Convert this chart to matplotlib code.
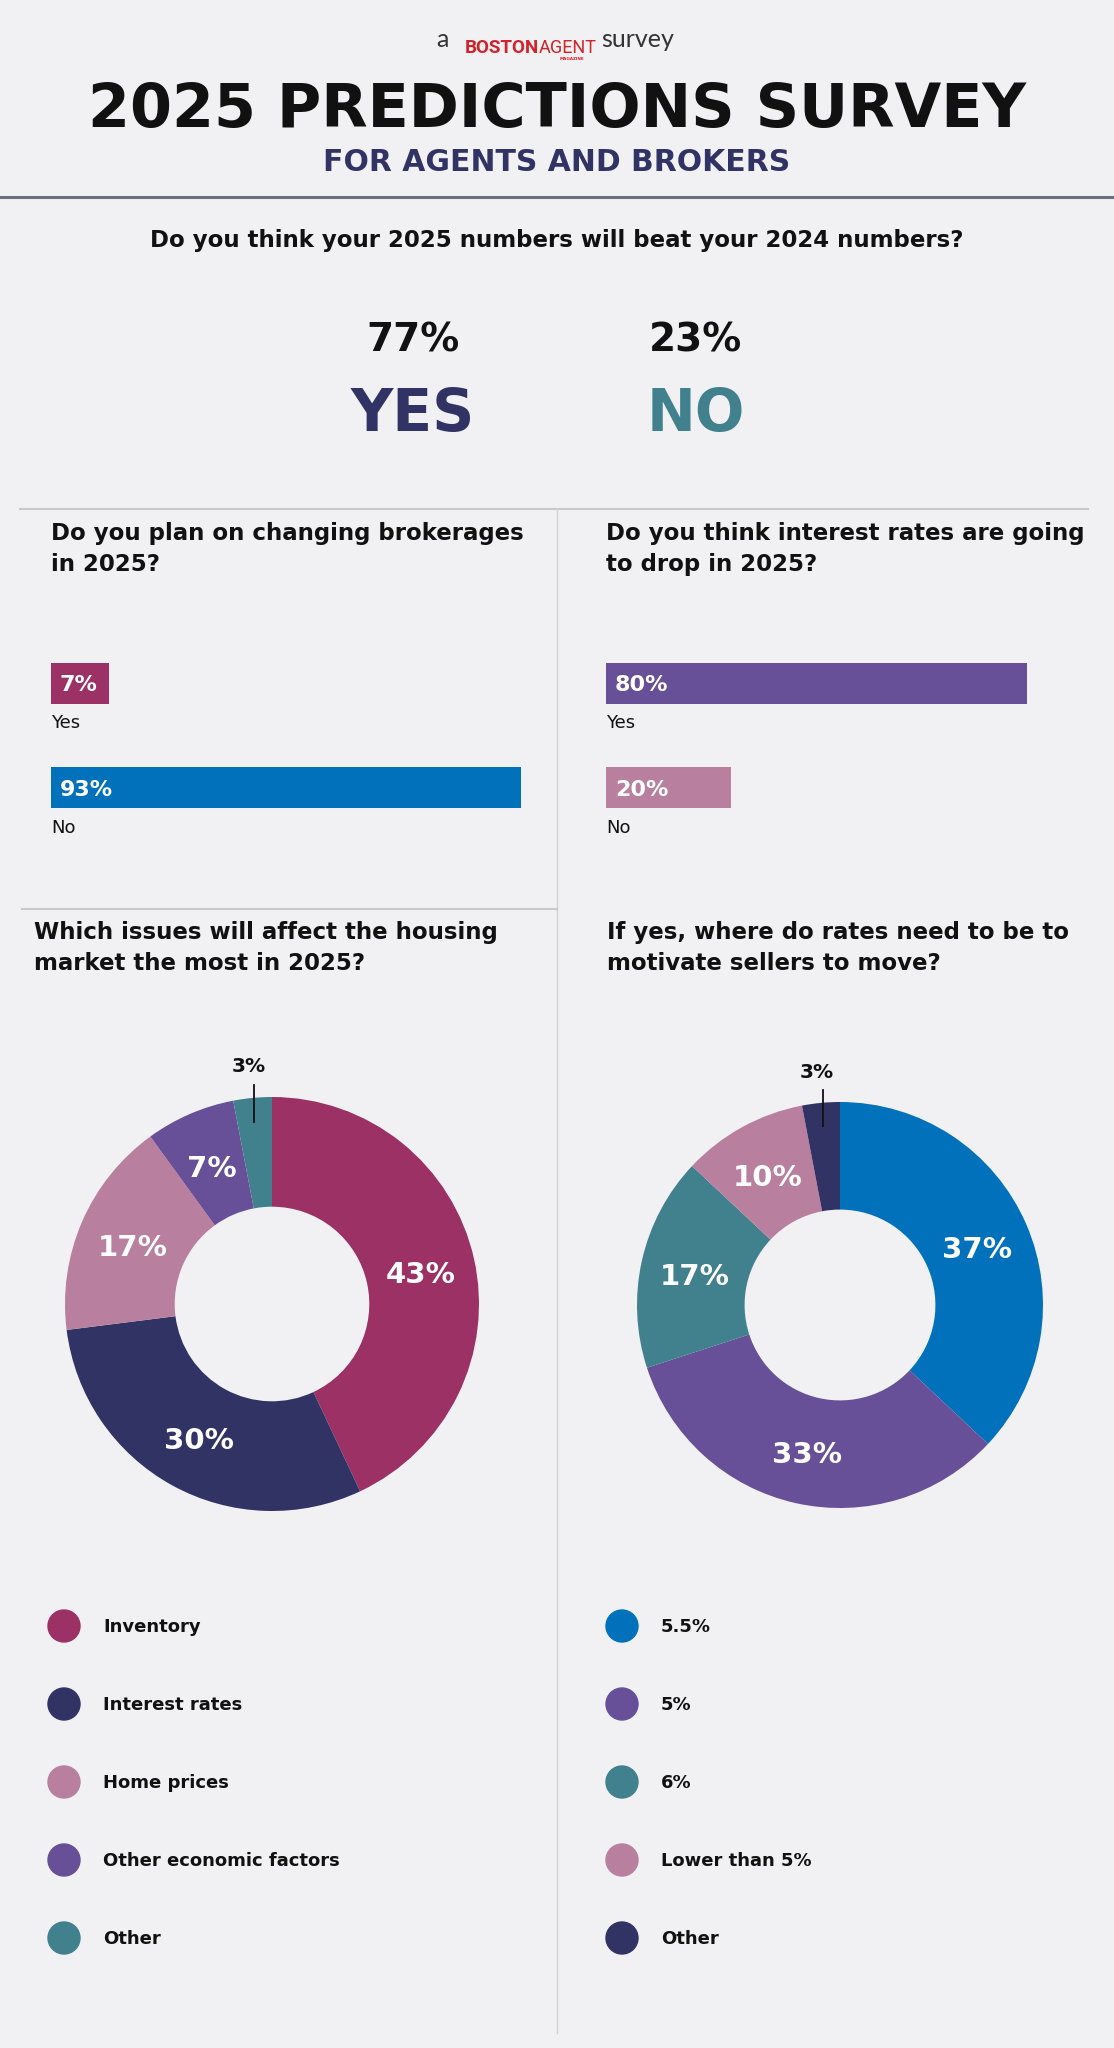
import numpy as np
import matplotlib
matplotlib.use('Agg')
import matplotlib.pyplot as plt
from matplotlib.patches import Circle

plt.rcParams['font.family'] = ['DejaVu Sans']

W, H = 1114, 2048
BG = '#F1F1F3'
INK = '#111111'
MAROON = '#9B3165'
NAVY = '#323365'
PINK = '#B87F9E'
PURPLE = '#675097'
TEAL = '#40818D'
BLUE = '#0071BA'

# --- data ---
beat_labels = ['YES', 'NO']
beat_values = [77, 23]
beat_colors = [NAVY, TEAL]

broker_labels = ['Yes', 'No']
broker_values = [7, 93]
broker_colors = [MAROON, BLUE]

rates_labels = ['Yes', 'No']
rates_values = [80, 20]
rates_colors = [PURPLE, PINK]

issues_labels = ['Inventory', 'Interest rates', 'Home prices', 'Other economic factors', 'Other']
issues_values = [43, 30, 17, 7, 3]
issues_colors = [MAROON, NAVY, PINK, PURPLE, TEAL]

target_labels = ['5.5%', '5%', '6%', 'Lower than 5%', 'Other']
target_values = [37, 33, 17, 10, 3]
target_colors = [BLUE, PURPLE, TEAL, PINK, NAVY]

fig = plt.figure(figsize=(W / 100, H / 100), dpi=100, facecolor=BG)


def px_axes(x0, y0, w, h):
    # axes placed in pixel units, measured from the top-left corner
    return fig.add_axes([x0 / W, 1 - (y0 + h) / H, w / W, h / H])


bg = px_axes(0, 0, W, H)
bg.set_xlim(0, W)
bg.set_ylim(H, 0)
bg.axis('off')

# header
bg.text(449, 47, 'a', fontsize=18, color='#333333', family=['Lato', 'DejaVu Sans'],
        ha='right', va='baseline')
bg.text(539, 53, 'BOSTON', fontsize=13.5, color='#D2232A', weight='bold', ha='right', va='baseline',
        family=['Roboto', 'DejaVu Sans'])
bg.text(539, 53, 'AGENT', fontsize=13, color='#D2232A', ha='left', va='baseline',
        family=['Roboto', 'DejaVu Sans'])
bg.text(572, 59, 'MAGAZINE', fontsize=3, color='#D2232A', ha='center', va='center', weight='bold')
bg.text(601, 47, 'survey', fontsize=18, color='#333333', family=['Lato', 'DejaVu Sans'],
        va='baseline')

bg.text(557, 127, '2025 PREDICTIONS SURVEY', fontsize=43.5, weight='bold', color=INK,
        ha='center', va='baseline')
bg.text(557, 171, 'FOR AGENTS AND BROKERS', fontsize=21.5, weight='bold', color=NAVY,
        ha='center', va='baseline')
bg.plot([0, W], [197, 197], color='#6F6E7B', lw=2.2)

# question 1
bg.text(557, 247, 'Do you think your 2025 numbers will beat your 2024 numbers?', fontsize=16.5,
        weight='bold', color=INK, ha='center', va='baseline')
for cx, lab, val, col in zip([413, 696], beat_labels, beat_values, beat_colors):
    bg.text(cx, 351, f'{val}%', fontsize=28, weight='bold', color=INK, ha='center', va='baseline')
    bg.text(cx, 431, lab, fontsize=42, weight='bold', color=col, ha='center', va='baseline')

# dividers
bg.plot([20, 1088], [509, 509], color='#C9C9CD', lw=1.5)
bg.plot([557, 557], [509, 2033], color='#D2D2D6', lw=1)
bg.plot([22, 557], [909, 909], color='#C9C9CD', lw=1.5)

# section questions
bg.text(51, 571, 'Do you plan on changing brokerages\nin 2025?', fontsize=16.5, weight='bold',
        color=INK, va='baseline', linespacing=1.45)
bg.text(606, 571, 'Do you think interest rates are going\nto drop in 2025?', fontsize=16.5,
        weight='bold', color=INK, va='baseline', linespacing=1.45)
bg.text(34, 970, 'Which issues will affect the housing\nmarket the most in 2025?', fontsize=16.5,
        weight='bold', color=INK, va='baseline', linespacing=1.45)
bg.text(607, 970, 'If yes, where do rates need to be to\nmotivate sellers to move?', fontsize=16.5,
        weight='bold', color=INK, va='baseline', linespacing=1.45)


def bar_panel(x0, x1, labels, values, colors, xmin):
    # bars start a little before zero so the shortest one still holds its label
    ax = px_axes(x0, 631, x1 - x0, 209)
    ypos = np.arange(len(values))
    ax.barh(ypos, np.array(values) - xmin, left=xmin, height=0.39, color=colors)
    ax.set_xlim(xmin, max(values))
    ax.set_ylim(1.5, -0.5)
    ax.axis('off')
    for y, lab, val in zip(ypos, labels, values):
        ax.text(xmin + 1.8, y + 0.077, f'{val}%', color='white', fontsize=16, weight='bold',
                va='baseline')
        ax.text(xmin, y + 0.43, lab, color=INK, fontsize=13, va='baseline')
    return ax


bar_panel(51, 521, broker_labels, broker_values, broker_colors, -5.1)
bar_panel(606, 1027, rates_labels, rates_values, rates_colors, -5.3)


def donut(cx, cy, r, values, colors):
    span = 1.25
    ax = px_axes(cx - span * r, cy - span * r, 2 * span * r, 2 * span * r)
    wedges, _ = ax.pie(values, colors=colors, startangle=90, counterclock=False, radius=1,
                       wedgeprops=dict(width=0.53, edgecolor='none'))
    ax.set_xlim(-span, span)
    ax.set_ylim(-span, span)
    ax.set_aspect('equal')
    ax.axis('off')
    for w, val in zip(wedges, values):
        ang = np.deg2rad((w.theta1 + w.theta2) / 2)
        if val >= 5:
            ax.text(0.735 * np.cos(ang), 0.735 * np.sin(ang) - 0.02, f'{val}%', color='white',
                    fontsize=21, weight='bold', ha='center', va='center')
        else:
            x = 0.9 * np.cos(ang)
            ax.plot([x, x], [0.88, 1.06], color=INK, lw=1.3)
            ax.text(1.2 * np.cos(ang), 1.1, f'{val}%', color=INK, fontsize=14.5,
                    weight='bold', ha='center', va='bottom')
    return ax


donut(272, 1304, 207, issues_values, issues_colors)
donut(840, 1305, 203, target_values, target_colors)

# legends
for col_x, labels, colors in [(64, issues_labels, issues_colors), (622, target_labels, target_colors)]:
    for i, (lab, col) in enumerate(zip(labels, colors)):
        y = 1626 + i * 78
        bg.add_patch(Circle((col_x, y), 16, color=col))
        bg.text(col_x + 39, y + 6.5, lab, fontsize=13, weight='bold', color=INK, va='baseline')

fig.savefig('out.png', dpi=100, facecolor=BG)
